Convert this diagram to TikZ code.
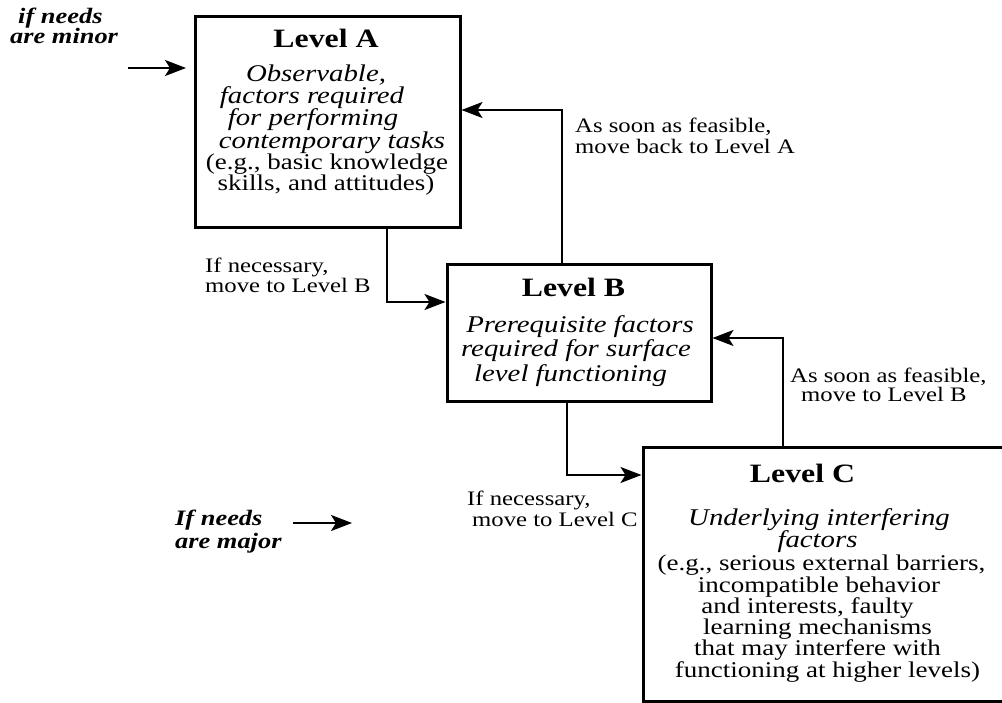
\documentclass[tikz,border=0pt]{standalone}
\usepackage{fontspec}
\setmainfont{Liberation Serif}[FakeStretch=1.2]
\usetikzlibrary{arrows.meta}
\begin{document}
\begin{tikzpicture}[x=1pt,y=-1pt,
  levelbox/.style={draw, line width=3pt, inner sep=0pt},
  conn/.style={line width=2.2pt, -{Stealth[length=21pt,width=16pt,inset=5pt]}},
  ttl/.style={inner sep=0pt, anchor=base, font=\fontsize{26.5}{27}\selectfont\bfseries},
  itx/.style={inner sep=0pt, anchor=base, font=\fontsize{24}{24}\selectfont\itshape},
  rmx/.style={inner sep=0pt, anchor=base, font=\fontsize{22.5}{22.5}\selectfont},
  lbl/.style={inner sep=0pt, anchor=base west, font=\fontsize{20.6}{20.6}\selectfont},
  bix/.style={inner sep=0pt, anchor=base west, font=\fontsize{22}{22}\selectfont\bfseries\itshape}]
\useasboundingbox (0,0) rectangle (1002,703);
% boxes
\node[levelbox, minimum width=265pt, minimum height=211pt] (boxA) at (327.5,122.5) {};
\node[levelbox, minimum width=264pt, minimum height=137pt] (boxB) at (579,333.5) {};
\node[levelbox, minimum width=361pt, minimum height=254pt] (boxC) at (823.5,574) {};
% box A text
\node[ttl] (tA) at (326,48) {Level A};
\node[itx] (a1) at (316,82) {Observable,};
\node[itx] (a2) at (312,104) {factors required};
\node[itx] (a3) at (313,126) {for performing};
\node[itx] (a4) at (332,149) {contemporary tasks};
\node[rmx] (a5) at (327,170) {(e.g., basic knowledge};
\node[rmx] (a6) at (326,191) {skills, and attitudes)};
% box B text
\node[ttl] (tB) at (573.5,297) {Level B};
\node[itx] (b1) at (580,333) {Prerequisite factors};
\node[itx] (b2) at (576,357) {required for surface};
\node[itx] (b3) at (570.5,382) {level functioning};
% box C text
\node[ttl] (tC) at (802.5,482) {Level C};
\node[itx] (c1) at (819,525) {Underlying interfering};
\node[itx] (c2) at (817.5,547) {factors};
\node[rmx] (c3) at (821.5,570) {(e.g., serious external barriers,};
\node[rmx] (c4) at (819,592) {incompatible behavior};
\node[rmx] (c5) at (807.5,613) {and interests, faulty};
\node[rmx] (c6) at (817.5,634) {learning mechanisms};
\node[rmx] (c7) at (817.5,655) {that may interfere with};
\node[rmx] (c8) at (827.5,677) {functioning at higher levels)};
% labels
\node[lbl] (l1) at (575,133) {As soon as feasible,};
\node[lbl] (l2) at (575,154) {move back to Level A};
\node[lbl] (l3) at (205,273) {If necessary,};
\node[lbl] (l4) at (205,293) {move to Level B};
\node[lbl] (l5) at (790,383) {As soon as feasible,};
\node[lbl] (l6) at (801,402) {move to Level B};
\node[lbl] (l7) at (467,505) {If necessary,};
\node[lbl] (l8) at (472,526) {move to Level C};
\node[bix] (n1) at (18,24) {if needs};
\node[bix] (n2) at (10,44) {are minor};
\node[bix] (n3) at (175,525) {If needs};
\node[bix] (n4) at (175,548) {are major};
% connectors
\coordinate (ab) at (387,302);
\coordinate (ba) at (562,110);
\coordinate (bc) at (567,475);
\coordinate (cb) at (783,338);
\draw[conn] (boxA.south -| ab) |- (boxB.west |- ab);
\draw[conn] (boxB.north -| ba) |- (boxA.east |- ba);
\draw[conn] (boxB.south -| bc) |- (boxC.west |- bc);
\draw[conn] (boxC.north -| cb) |- (boxB.east |- cb);
\coordinate (m1) at (128,68);
\coordinate (m2) at (186,68);
\coordinate (j1) at (293,523);
\coordinate (j2) at (352,523);
\draw[conn] (m1) -- (m2);
\draw[conn] (j1) -- (j2);
\end{tikzpicture}
\end{document}
